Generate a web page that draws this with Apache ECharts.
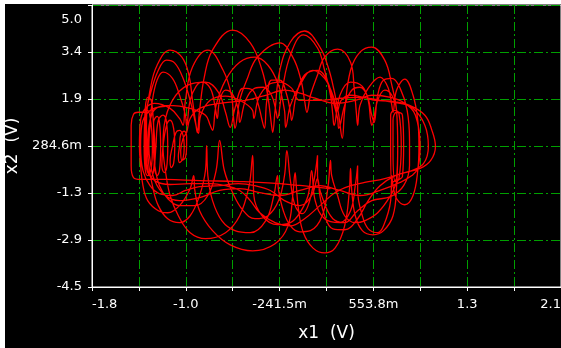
<!DOCTYPE html>
<html>
<head>
<meta charset="utf-8">
<script src="https://cdn.jsdelivr.net/npm/echarts@6/dist/echarts.min.js"></script>
<style>
  html, body { margin: 0; padding: 0; background: #fff; }
  #chart { position: absolute; left: 5px; top: 4px; width: 556px; height: 344px; }
</style>
</head>
<body>
<div id="chart"></div>
<script>
// tick labels as printed on the scope
const xTickLabels = ["-1.8", "", "-1.0", "", "-241.5m", "", "553.8m", "", "1.3", "", "2.1"];
const yTickLabels = ["-4.5", "-2.9", "-1.3", "284.6m", "1.9", "3.4", "5.0"];
const x1Range = [-1.8321, 2.1444];
const x2Range = [-4.4554, 5.0246];

// phase trajectory [x1, x2]
const outerFrame = [[0.19,-1.15],[-0.24,-0.98],[-0.58,-0.91],[-0.92,-0.88],[-1.21,-0.84],[-1.42,-0.84],[-1.48,-0.78],[-1.50,-0.37],[-1.50,0.27],[-1.50,0.98],[-1.48,1.35],[-1.44,1.42],[-1.38,1.42]];
const leftCoilA = [[-1.36,1.48],[-1.33,0.98],[-1.32,0.27],[-1.33,-0.47],[-1.36,-0.71],[-1.38,-0.54],[-1.39,0.27],[-1.38,1.55],[-1.36,1.92],[-1.33,1.82],[-1.31,0.98],[-1.30,0.27],[-1.31,-0.54],[-1.33,-0.74],[-1.36,-0.47],[-1.37,0.27]];
const pass2Top = [[-1.37,1.15],[-1.34,2.16],[-1.28,3.00],[-1.17,3.51],[-1.07,3.27],[-1.01,2.67],[-0.98,1.82],[-0.95,0.98],[-0.94,0.74],[-0.92,1.48],[-0.88,2.60],[-0.81,3.51],[-0.64,4.18],[-0.49,3.75],[-0.39,2.83],[-0.34,1.92],[-0.31,0.98],[-0.30,0.74],[-0.28,1.48],[-0.24,2.83],[-0.15,3.78],[-0.03,4.15],[0.10,3.61],[0.17,2.94],[0.22,2.16],[0.26,1.32],[0.29,0.54],[0.31,1.48],[0.36,2.83],[0.44,3.44],[0.54,3.61],[0.65,3.17],[0.71,2.33],[0.75,1.48],[0.76,0.27]];
const pass2Bottom = [[0.75,-1.11],[0.72,-2.06],[0.64,-2.56],[0.55,-2.70],[0.46,-2.56],[0.40,-2.06],[0.37,-1.21],[0.36,-0.47],[0.35,-1.21],[0.31,-2.40],[0.23,-3.14],[0.14,-3.31],[0.04,-3.14],[-0.04,-2.63],[-0.08,-1.89],[-0.10,-1.05],[-0.11,-0.61],[-0.13,-1.38],[-0.17,-2.40],[-0.28,-3.00],[-0.47,-3.24],[-0.66,-3.04],[-0.81,-2.56],[-0.92,-1.89],[-0.96,-1.21],[-0.97,-0.71],[-1.00,-1.15],[-1.09,-1.72],[-1.19,-1.96],[-1.27,-1.89],[-1.36,-1.55],[-1.40,-1.05],[-1.42,-0.37],[-1.43,0.27]];
const pass3Top = [[-1.42,1.15],[-1.38,1.55],[-1.30,1.72],[-1.17,1.55],[-1.09,1.21],[-1.06,0.98],[-1.04,1.82],[-0.98,2.94],[-0.85,3.51],[-0.72,2.83],[-0.65,1.99],[-0.63,1.15],[-0.62,0.88],[-0.58,1.82],[-0.52,2.50],[-0.43,3.27],[-0.24,3.75],[-0.13,3.27],[-0.06,2.50],[-0.03,1.82],[-0.01,1.42],[0.02,1.99],[0.08,2.67],[0.14,3.27],[0.25,3.54],[0.36,3.10],[0.39,2.26],[0.41,1.38],[0.42,0.98],[0.44,1.65],[0.51,2.23],[0.61,2.60],[0.68,2.23],[0.71,1.65],[0.72,1.42],[0.75,2.16],[0.82,2.53],[0.89,1.99],[0.93,1.15],[0.94,0.27],[0.93,-0.54]];
const pass3Bottom = [[0.89,-1.38],[0.82,-1.69],[0.75,-1.48],[0.72,-1.05],[0.71,-0.71],[0.70,-1.55],[0.64,-2.40],[0.59,-2.63],[0.51,-2.50],[0.46,-2.06],[0.42,-1.21],[0.42,-0.37],[0.40,-1.05],[0.36,-1.89],[0.27,-2.29],[0.14,-2.16],[0.06,-1.55],[0.03,-0.54],[0.00,-1.38],[-0.07,-1.96],[-0.15,-2.29],[-0.26,-2.36],[-0.39,-2.06],[-0.46,-1.38],[-0.47,-0.03],[-0.50,-1.05],[-0.58,-2.06],[-0.70,-2.63],[-0.87,-2.83],[-1.00,-2.63],[-1.10,-2.06],[-1.17,-1.38],[-1.21,-0.54],[-1.23,0.27]];
const pass4Top = [[-1.22,0.98],[-1.15,1.82],[-1.02,2.33],[-0.87,2.43],[-0.76,2.09],[-0.70,1.42],[-0.66,0.91],[-0.62,1.55],[-0.55,2.23],[-0.47,2.16],[-0.42,1.65],[-0.39,1.15],[-0.37,0.88],[-0.35,1.82],[-0.31,2.50],[-0.24,2.50],[-0.18,1.99],[-0.15,1.42],[-0.14,1.15],[-0.10,1.99],[-0.03,2.67],[0.08,2.83],[0.16,2.50],[0.21,1.82],[0.25,1.21],[0.26,0.88],[0.31,1.65],[0.37,2.16],[0.44,2.26],[0.50,1.99],[0.54,1.32],[0.56,1.08],[0.59,1.99],[0.64,2.50],[0.71,2.56],[0.78,2.23],[0.84,1.48],[0.86,0.47],[0.86,-0.37]];
const pass4Bottom = [[0.81,-1.05],[0.70,-1.42],[0.54,-1.55],[0.42,-1.89],[0.31,-2.29],[0.21,-2.16],[0.13,-1.55],[0.08,-0.71],[0.08,-0.03],[0.05,-0.88],[0.00,-1.72],[-0.05,-1.99],[-0.11,-1.72],[-0.15,-0.88],[-0.18,0.13],[-0.20,-0.71],[-0.25,-1.55],[-0.34,-2.06],[-0.45,-2.16],[-0.55,-1.89],[-0.64,-1.28],[-0.71,-0.54],[-0.75,0.47],[-0.78,-0.54],[-0.85,-1.38],[-0.96,-1.72],[-1.09,-1.72],[-1.19,-1.48],[-1.26,-1.05],[-1.30,-0.37],[-1.31,0.27]];
const leftCoilB = [[-1.31,1.08],[-1.28,1.28],[-1.26,1.08],[-1.25,0.27],[-1.26,-0.54],[-1.28,-0.71],[-1.30,-0.47],[-1.29,0.27],[-1.27,1.15],[-1.23,1.32],[-1.20,1.08],[-1.19,0.27],[-1.20,-0.47],[-1.22,-0.61],[-1.24,-0.37],[-1.23,0.27],[-1.20,0.98],[-1.17,1.15],[-1.14,0.88],[-1.13,0.27],[-1.14,-0.30],[-1.16,-0.44],[-1.17,-0.20],[-1.15,0.27],[-1.12,0.74],[-1.09,0.81],[-1.06,0.64],[-1.05,0.27],[-1.06,-0.13],[-1.09,-0.27],[-1.10,-0.07],[-1.09,0.27],[-1.08,0.67],[-1.05,0.78],[-1.03,0.61],[-1.03,0.27],[-1.04,-0.10],[-1.07,-0.20],[-1.08,0.13],[-1.06,0.54],[-1.03,0.74]];
const pass5Top = [[-1.00,1.21],[-0.92,1.55],[-0.75,1.72],[-0.53,1.82],[-0.36,1.99],[-0.20,2.16],[-0.07,2.06],[0.06,1.89],[0.23,1.72],[0.40,1.82],[0.54,1.99],[0.70,1.92],[0.82,1.72],[0.91,1.32],[0.95,0.27],[0.93,-0.47],[0.88,-0.71]];
const pass5Bottom = [[0.78,-0.94],[0.61,-1.21],[0.44,-1.38],[0.27,-1.21],[0.10,-1.05],[-0.07,-1.21],[-0.24,-1.38],[-0.41,-1.28],[-0.58,-1.15],[-0.75,-1.21],[-0.92,-1.45],[-1.09,-1.55],[-1.21,-1.38],[-1.30,-0.88],[-1.34,-0.20],[-1.35,0.27]];
const pass6Top = [[-1.34,0.98],[-1.32,1.82],[-1.28,2.50],[-1.23,2.77],[-1.15,2.56],[-1.09,1.99],[-1.04,1.32],[-1.03,0.98],[-1.00,1.82],[-0.95,2.29],[-0.90,2.43],[-0.83,2.23],[-0.79,1.65],[-0.77,1.21],[-0.75,1.82],[-0.70,2.16],[-0.64,2.02],[-0.59,1.48],[-0.58,1.08],[-0.53,1.82],[-0.45,2.23],[-0.38,2.26],[-0.31,1.99],[-0.27,1.42],[-0.26,1.21],[-0.22,2.16],[-0.15,3.34],[-0.04,4.02],[0.08,3.58],[0.14,2.83],[0.19,1.99],[0.21,1.32],[0.22,0.98],[0.27,1.99],[0.36,2.43],[0.46,2.29],[0.51,1.82],[0.53,1.15],[0.54,0.98],[0.59,1.82],[0.65,2.16],[0.71,1.99],[0.75,1.48]];
const rightCoil = [[0.76,0.27],[0.75,-0.81],[0.71,-0.94],[0.70,0.27],[0.70,1.32],[0.73,1.48],[0.77,1.38],[0.79,0.27],[0.77,-0.81],[0.74,-0.91],[0.72,0.13],[0.72,1.15],[0.75,1.42],[0.80,1.32],[0.81,0.27],[0.80,-0.74],[0.76,-0.88]];
const pass6Bottom = [[0.70,-1.38],[0.59,-1.96],[0.48,-2.23],[0.40,-2.29],[0.31,-2.06],[0.25,-1.38],[0.20,-0.71],[0.19,-0.20],[0.17,-1.05],[0.12,-2.06],[0.02,-2.56],[-0.07,-2.60],[-0.15,-2.40],[-0.21,-1.89],[-0.25,-1.21],[-0.26,-0.71],[-0.29,-1.38],[-0.36,-2.23],[-0.49,-2.63],[-0.62,-2.56],[-0.73,-2.23],[-0.81,-1.55],[-0.85,-0.71],[-0.86,0.30],[-0.87,-0.54],[-0.92,-1.38],[-1.00,-2.06],[-1.09,-2.29],[-1.19,-2.16],[-1.27,-1.72],[-1.32,-1.05],[-1.35,-0.37],[-1.36,0.27]];
const pass7Top = [[-1.34,1.15],[-1.29,1.55],[-1.17,1.65],[-1.00,1.55],[-0.87,1.32],[-0.83,0.98],[-0.81,0.81],[-0.78,1.65],[-0.70,2.50],[-0.58,3.10],[-0.45,3.27],[-0.34,3.00],[-0.25,2.33],[-0.20,1.48],[-0.19,0.91],[-0.15,1.65],[-0.07,2.33],[0.04,2.83],[0.14,2.56],[0.21,1.99],[0.25,1.48],[0.28,1.82],[0.36,1.99],[0.47,1.92],[0.57,1.82],[0.70,1.79],[0.86,1.65],[0.99,1.32],[1.05,0.81],[1.08,0.27],[1.04,-0.20],[0.95,-0.47]];
const pass7Bottom = [[0.82,-0.61],[0.65,-0.81],[0.48,-0.94],[0.36,-1.05],[0.23,-1.28],[0.10,-1.72],[-0.03,-2.16],[-0.15,-2.40],[-0.28,-2.29],[-0.41,-1.96],[-0.49,-1.55],[-0.58,-1.21],[-0.70,-1.05],[-0.83,-0.98],[-1.00,-0.98],[-1.17,-1.01],[-1.30,-0.88],[-1.37,-0.47],[-1.38,0.27]];
const pass8Top = [[-1.38,1.15],[-1.34,1.99],[-1.27,2.83],[-1.20,3.17],[-1.13,3.07],[-1.06,2.56],[-1.00,1.82],[-0.96,1.15],[-0.93,0.71],[-0.91,1.32],[-0.83,1.82],[-0.70,1.96],[-0.58,1.82],[-0.47,1.48],[-0.46,1.21],[-0.42,1.89],[-0.34,2.33],[-0.24,2.43],[-0.14,2.23],[-0.07,1.82],[0.10,1.82],[0.27,1.89],[0.44,1.92],[0.61,1.82],[0.78,1.72],[0.89,1.55],[0.99,0.98],[1.02,0.27],[0.98,-0.30],[0.88,-0.54]];
const pass8Bottom = [[0.74,-0.71],[0.61,-1.05],[0.51,-1.55],[0.42,-2.16],[0.31,-2.53],[0.21,-2.50],[0.14,-2.06],[0.10,-1.38],[0.08,-0.81],[0.03,-1.38],[-0.07,-1.72],[-0.20,-1.55],[-0.32,-1.21],[-0.45,-1.05],[-0.59,-0.98],[-0.75,-1.05],[-0.92,-1.08],[-1.04,-1.21],[-1.15,-1.38],[-1.26,-1.32],[-1.34,-1.05],[-1.40,-0.54],[-1.42,0.27],[-1.41,0.98],[-1.34,1.48],[-1.21,1.62]];

const trace = [].concat(
  outerFrame, leftCoilA, pass2Top, pass2Bottom, pass3Top, pass3Bottom,
  pass4Top, pass4Bottom, leftCoilB, pass5Top, pass5Bottom,
  pass6Top, rightCoil, pass6Bottom, pass7Top, pass7Bottom, pass8Top, pass8Bottom
);

const chart = echarts.init(document.getElementById("chart"));

const gridLine = { color: "#00a000", width: 1, type: [9, 3, 2, 3] };
const labelFont = { color: "#fff", fontFamily: "DejaVu Sans", fontSize: 13 };
const nameFont = { color: "#fff", fontFamily: "DejaVu Sans", fontSize: 17 };

const option = {
  backgroundColor: "#000",
  animation: false,
  grid: {
    left: 87, top: 1, right: 0, height: 282,
    outerBoundsMode: "none",
    containLabel: false,
    show: true, borderColor: "#fff", borderWidth: 1, backgroundColor: "#000",
  },
  xAxis: [
    {
      type: "value", min: 0, max: 10, interval: 1,
      name: "x1  (V)", nameLocation: "middle", nameGap: 38, nameTextStyle: nameFont,
      axisLine: { lineStyle: { color: "#fff", width: 1 } },
      axisTick: { length: 4, lineStyle: { color: "#fff" } },
      axisLabel: {
        ...labelFont, margin: 11, showMinLabel: true, showMaxLabel: true,
        alignMinLabel: "left", alignMaxLabel: "right",
        formatter: (v) => xTickLabels[Math.round(v)],
      },
      splitLine: { show: true, lineStyle: gridLine },
    },
    { type: "value", min: x1Range[0], max: x1Range[1], show: false },
  ],
  yAxis: [
    {
      type: "value", min: 0, max: 6, interval: 1,
      name: "x2  (V)", nameLocation: "middle", nameGap: 68, nameTextStyle: nameFont,
      axisLine: { lineStyle: { color: "#fff", width: 1 } },
      axisTick: { length: 4, lineStyle: { color: "#fff" } },
      axisLabel: {
        ...labelFont, margin: 10, showMinLabel: true, showMaxLabel: true,
        verticalAlignMaxLabel: "top",
        formatter: (v) => (Math.round(v) === 6 ? "{t|" + yTickLabels[6] + "}" : yTickLabels[Math.round(v)]),
        rich: { t: { ...labelFont, padding: [8, 0, 0, 0] } },
      },
      splitLine: { show: true, lineStyle: gridLine },
    },
    { type: "value", min: x2Range[0], max: x2Range[1], show: false },
  ],
  series: [
    {
      type: "line",
      xAxisIndex: 1,
      yAxisIndex: 1,
      data: trace,
      showSymbol: false,
      smooth: 0.4,
      lineStyle: { color: "#ff0000", width: 1.3 },
    },
  ],
};

chart.setOption(option);
</script>
</body>
</html>
